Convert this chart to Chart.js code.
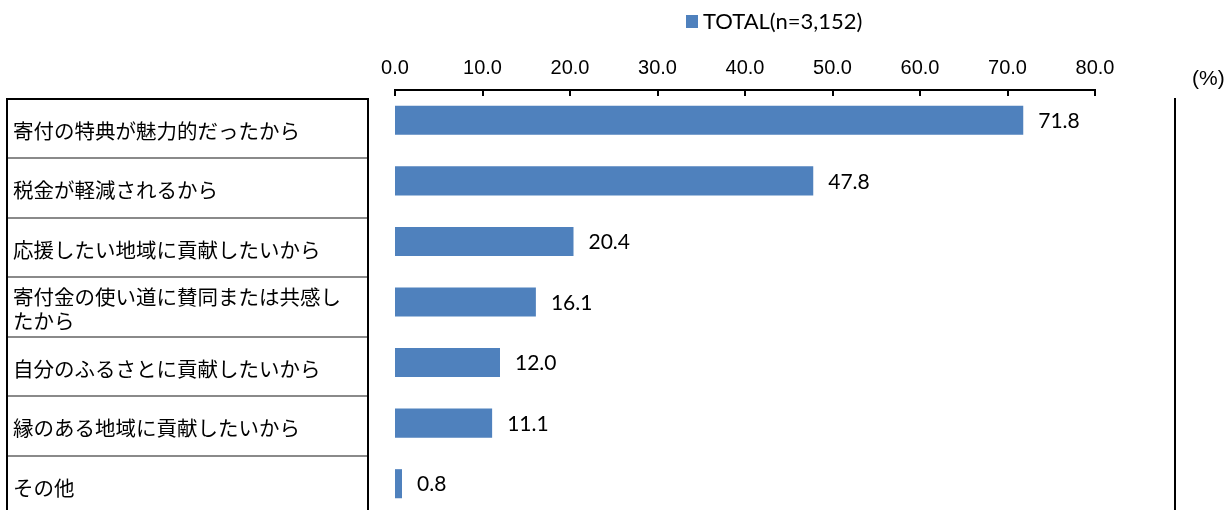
<!DOCTYPE html>
<html lang="ja">
<head>
<meta charset="UTF-8">
<title>寄付の理由</title>
<script src="https://cdn.jsdelivr.net/npm/chart.js"></script>
<style>
  html, body { margin: 0; padding: 0; background: #fff; overflow: hidden; }
  #wrap { width: 1232px; height: 514px; position: relative; }
</style>
</head>
<body>
<div id="wrap"><canvas id="chart"></canvas></div>
<script>
// Data
const categories = [
  '寄付の特典が魅力的だったから',
  '税金が軽減されるから',
  '応援したい地域に貢献したいから',
  ['寄付金の使い道に賛同または共感し', 'たから'],
  '自分のふるさとに貢献したいから',
  '縁のある地域に貢献したいから',
  'その他'
]
const totalValues = [71.8, 47.8, 20.4, 16.1, 12.0, 11.1, 0.8]
const seriesLabel = 'TOTAL(n=3,152)'
const axisMin = 0
const axisMax = 80
const axisStep = 10
const unitLabel = '(%)'

const barColor = '#4F81BD'
const jpFont = '"Noto Sans CJK JP", "Noto Sans", sans-serif'

// label table on the left (its rows are a touch tighter than the bar bands)
const tableTop = 99
const rowHeight = 59.5

// Draws the label table, inner tick marks, value labels, legend and unit
const decorations = {
  id: 'decorations',
  afterDraw(chart) {
    const ctx = chart.ctx
    const x = chart.scales.x
    const h = chart.height
    ctx.save()

    // table outline
    ctx.strokeStyle = '#000'
    ctx.lineWidth = 2
    ctx.beginPath()
    ctx.moveTo(7, h); ctx.lineTo(7, tableTop); ctx.lineTo(368, tableTop); ctx.lineTo(368, h)
    ctx.stroke()

    // row separators
    ctx.strokeStyle = '#8a8a8a'
    for (let i = 1; i < categories.length; i++) {
      const yy = Math.round(tableTop + i * rowHeight - 0.5)
      ctx.beginPath()
      ctx.moveTo(8, yy); ctx.lineTo(367, yy)
      ctx.stroke()
    }

    // row labels
    ctx.fillStyle = '#000'
    ctx.font = '20.5px ' + jpFont
    ctx.textAlign = 'left'
    ctx.textBaseline = 'middle'
    categories.forEach((c, i) => {
      const cy = tableTop + (i + 0.5) * rowHeight + 2
      const lines = Array.isArray(c) ? c : [c]
      lines.forEach((t, k) => {
        ctx.fillText(t, 13, cy + (k - (lines.length - 1) / 2) * 24)
      })
    })

    // right frame line
    ctx.strokeStyle = '#000'
    ctx.beginPath()
    ctx.moveTo(1175, 98); ctx.lineTo(1175, h)
    ctx.stroke()

    // tick marks pointing down from the axis line
    x.ticks.forEach(t => {
      const xx = Math.round(x.getPixelForValue(t.value))
      ctx.beginPath()
      ctx.moveTo(xx, 90); ctx.lineTo(xx, 96)
      ctx.stroke()
    })

    // value labels
    ctx.font = '21px Lato, sans-serif'
    const meta = chart.getDatasetMeta(0)
    meta.data.forEach((bar, i) => {
      ctx.fillText(totalValues[i].toFixed(1), bar.x + 15, bar.y + 1)
    })

    // unit
    ctx.font = '21px "Liberation Sans", Arial, sans-serif'
    ctx.fillText(unitLabel, 1192, 79)

    // legend
    ctx.fillStyle = barColor
    ctx.fillRect(686, 15, 12, 13)
    ctx.fillStyle = '#000'
    ctx.font = '22px Lato, sans-serif'
    ctx.fillText(seriesLabel, 703, 22)

    ctx.restore()
  }
}

new Chart(document.getElementById('chart'), {
  type: 'bar',
  data: {
    labels: categories,
    datasets: [{
      label: seriesLabel,
      data: totalValues,
      backgroundColor: barColor,
      borderWidth: 0,
      categoryPercentage: 1,
      barPercentage: 0.48
    }]
  },
  options: {
    indexAxis: 'y',
    responsive: true,
    maintainAspectRatio: false,
    animation: false,
    layout: { padding: { left: 395, right: 137, top: 0, bottom: 0 } },
    plugins: {
      legend: { display: false },
      tooltip: { enabled: false }
    },
    scales: {
      x: {
        position: 'top',
        min: axisMin,
        max: axisMax,
        afterFit: s => { s.height = 90 },
        grid: { display: false, drawTicks: false },
        border: { display: true, color: '#000', width: 2 },
        ticks: {
          stepSize: axisStep,
          padding: 10,
          color: '#000',
          font: { family: '"Liberation Sans", Arial, sans-serif', size: 20 },
          callback: v => Number(v).toFixed(1)
        }
      },
      y: {
        display: false
      }
    }
  },
  plugins: [decorations]
})
</script>
</body>
</html>
